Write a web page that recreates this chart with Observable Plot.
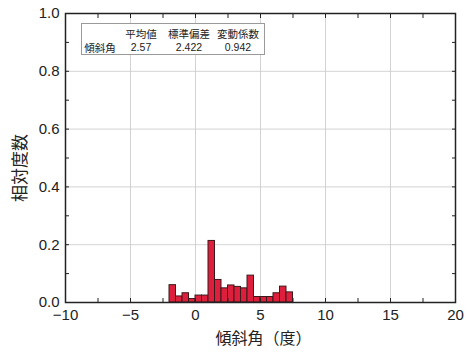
<!DOCTYPE html>
<html><head><meta charset="utf-8">
<script src="https://cdn.jsdelivr.net/npm/d3@7"></script>
<script src="https://cdn.jsdelivr.net/npm/@observablehq/plot@0.6"></script>
<style>
body{margin:0;background:#fff;}
#wrap{position:relative;width:470px;height:358px;font-family:"Liberation Sans","Noto Sans CJK JP",sans-serif;}
#tbl{position:absolute;left:81px;top:23px;width:182px;height:30px;border:1px solid #9a9a9a;background:#fff;font-family:"Noto Sans CJK JP",sans-serif;font-size:10.5px;color:#222;}
#tbl span{position:absolute;white-space:nowrap;transform:translate(-50%,-50%);}
</style></head>
<body><div id="wrap"><div id="chart"></div><div id="tbl"></div></div>
<script>
const binStart = [-2,-1.5,-1,-0.5,0,0.5,1,1.5,2,2.5,3,3.5,4,4.5,5,5.5,6,6.5,7];
const binWidth = 0.5;
const freq = [0.060,0.021,0.032,0.012,0.024,0.024,0.213,0.078,0.049,0.059,0.054,0.049,0.093,0.019,0.019,0.019,0.032,0.055,0.035];
const xMajor = [-10,-5,0,5,10,15,20];
const xMinor = [-10,-7.5,-5,-2.5,0,2.5,5,7.5,10,12.5,15,17.5,20];
const yMajor = [0,0.2,0.4,0.6,0.8,1.0];
const yMinor = [0,0.1,0.2,0.3,0.4,0.5,0.6,0.7,0.8,0.9,1.0];
const xGrid = [-5,0,5,10,15];
const yGrid = [0.2,0.4,0.6,0.8];
const statHeaders = ["平均値","標準偏差","変動係数"];
const rowLabel = "傾斜角";
const statValues = ["2.57","2.422","0.942"];

const bins = binStart.map((s,i)=>({x1:s,x2:s+binWidth,y:freq[i]}));

const chart = Plot.plot({
  width:470, height:358,
  marginLeft:65, marginRight:15, marginTop:13, marginBottom:56,
  style:{fontFamily:"'Liberation Sans','Noto Sans CJK JP',sans-serif", fontSize:"15px", color:"#222", background:"#fff"},
  x:{domain:[-10,20]},
  y:{domain:[0,1]},
  marks:[
    Plot.ruleX(xGrid,{stroke:"#c8c8c8",strokeWidth:0.8}),
    Plot.ruleY(yGrid,{stroke:"#c8c8c8",strokeWidth:0.8}),
    Plot.rectY(bins,{x1:"x1",x2:"x2",y:"y",fill:"#dd1f3d",stroke:"#3a1a1a",strokeWidth:1}),
    Plot.frame({stroke:"#222",strokeWidth:1.5}),
    Plot.axisX(xMajor,{anchor:"bottom",tickSize:0,tickPadding:7,tickFormat:d=>d<0?"−"+(-d):String(d),fontSize:15,label:null}),
    Plot.axisX(xMinor,{anchor:"bottom",tickSize:-4,text:null,stroke:"#222"}),
    Plot.axisX(xMinor,{anchor:"top",tickSize:-4,text:null,stroke:"#222",label:null}),
    Plot.axisY(yMajor,{anchor:"left",tickSize:0,tickPadding:6,tickFormat:d3.format(".1f"),fontSize:15,label:null}),
    Plot.axisY(yMinor,{anchor:"left",tickSize:-4,text:null,stroke:"#222",label:null}),
    Plot.axisY(yMinor,{anchor:"right",tickSize:-4,text:null,stroke:"#222",label:null}),
    Plot.text(["傾斜角（度）"],{frameAnchor:"bottom",dx:3,dy:41,fontSize:16,fontFamily:"'Noto Sans CJK JP',sans-serif",fill:"#222"}),
    Plot.text(["相対度数"],{frameAnchor:"left",textAnchor:"middle",dx:-45,dy:10,rotate:-90,fontSize:17,fontFamily:"'Noto Sans CJK JP',sans-serif",fill:"#222"})
  ]
});
document.getElementById("chart").appendChild(chart);

const tbl = document.getElementById("tbl");
const colX = [59,107,156];
statHeaders.forEach((h,i)=>{const s=document.createElement("span");s.textContent=h;s.style.left=colX[i]+"px";s.style.top="9px";tbl.appendChild(s);});
{const s=document.createElement("span");s.textContent=rowLabel;s.style.left="18px";s.style.top="23px";tbl.appendChild(s);}
statValues.forEach((v,i)=>{const s=document.createElement("span");s.textContent=v;s.style.left=colX[i]+"px";s.style.top="23px";s.style.fontFamily="'Liberation Sans',sans-serif";tbl.appendChild(s);});
</script></body></html>
